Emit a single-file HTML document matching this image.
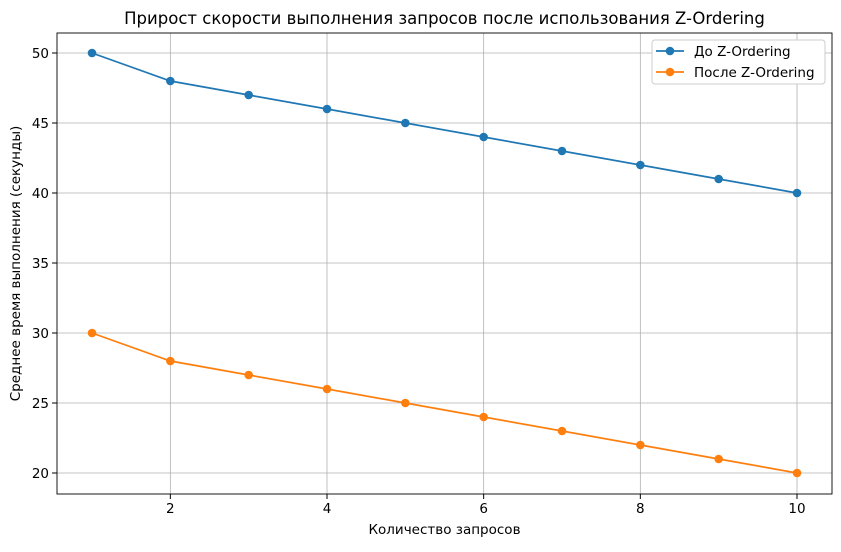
<!DOCTYPE html>
<html><head><meta charset="utf-8"><style>
body{margin:0;background:#fff;font-family:"Liberation Sans","DejaVu Sans",sans-serif;}
text{font-family:"DejaVu Sans","Liberation Sans",sans-serif;}
</style></head><body>
<svg id="c" width="841" height="547" xmlns="http://www.w3.org/2000/svg"></svg>
<script>
const categories=[1,2,3,4,5,6,7,8,9,10];
const before=[50,48,47,46,45,44,43,42,41,40];
const after=[30,28,27,26,25,24,23,22,21,20];
const xTicks=[2,4,6,8,10];
const yTicks=[20,25,30,35,40,45,50];
const seriesNames=["До Z-Ordering","После Z-Ordering"];
const L=57,R=832,T=33,B=494;
const x=v=>92+(v-1)*(797-92)/9;
const y=v=>473-(v-20)*(473-53)/30;
const svg=document.getElementById('c');
const NS='http://www.w3.org/2000/svg';
function mk(t,a,p){const e=document.createElementNS(NS,t);for(const k in a)e.setAttribute(k,a[k]);(p||svg).appendChild(e);return e;}
let g=mk('g',{});


xTicks.forEach(v=>{mk('line',{x1:x(v),x2:x(v),y1:T,y2:B,stroke:'#b0b0b0','stroke-width':0.8},g);});
yTicks.forEach(v=>{mk('line',{x1:L,x2:R,y1:y(v),y2:y(v),stroke:'#b0b0b0','stroke-width':0.8},g);});
let ax=mk('g',{});


xTicks.forEach(v=>{mk('line',{x1:x(v),x2:x(v),y1:B,y2:B+5,stroke:'#000'},ax);const t=mk('text',{x:x(v),y:B+19,'text-anchor':'middle','font-size':13.5},ax);t.textContent=v;});
let ay=mk('g',{});


yTicks.forEach(v=>{mk('line',{x1:L-5,x2:L,y1:y(v),y2:y(v),stroke:'#000'},ay);const t=mk('text',{x:L-8,y:y(v)+5,'text-anchor':'end','font-size':13.5},ay);t.textContent=v;});
const colors=['#1f77b4','#ff7f0e'];
[before,after].forEach((s,i)=>{
 const sg=mk('g',{});
 
 
 mk('polyline',{points:s.map((v,j)=>x(categories[j])+','+y(v)).join(' '),fill:'none',stroke:colors[i],'stroke-width':1.7},sg);
 s.forEach((v,j)=>{const c=mk('circle',{cx:x(categories[j]),cy:y(v),r:4.3,fill:colors[i]},sg);
 
 });
});
mk('rect',{x:L,y:T,width:R-L,height:B-T,fill:'none',stroke:'#000','stroke-width':0.9});
let tt=mk('text',{x:(L+R)/2,y:24,'text-anchor':'middle','font-size':16.5});tt.textContent='Прирост скорости выполнения запросов после использования Z-Ordering';

let xt=mk('text',{x:(L+R)/2,y:534,'text-anchor':'middle','font-size':13.5});xt.textContent='Количество запросов';

let yt=mk('text',{x:0,y:0,'text-anchor':'middle','font-size':13.5,transform:'translate(20,'+((T+B)/2)+') rotate(-90)'});yt.textContent='Среднее время выполнения (секунды)';

let lg=mk('g',{});


mk('rect',{x:652,y:40,width:173,height:44,rx:3,fill:'#fff',stroke:'#ccc'},lg);
seriesNames.forEach((n,i)=>{const yy=51+i*21;
 mk('line',{x1:656,x2:684,y1:yy,y2:yy,stroke:colors[i],'stroke-width':1.7},lg);
 mk('circle',{cx:670,cy:yy,r:4.3,fill:colors[i]},lg);
 const t=mk('text',{x:694,y:yy+5,'font-size':13.5},lg);t.textContent=n;
 });
</script>
</body></html>
